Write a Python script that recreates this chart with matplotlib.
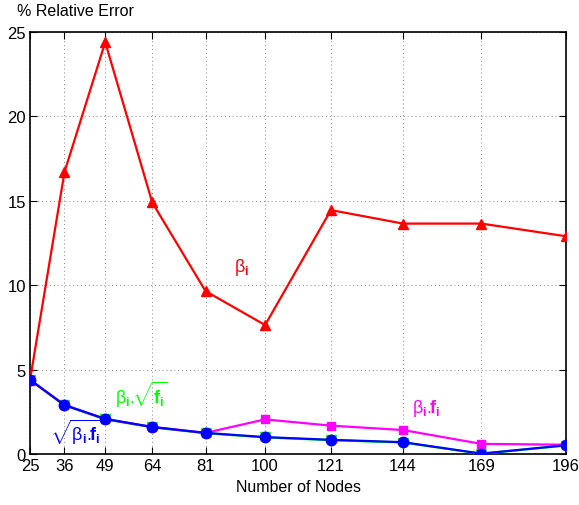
import matplotlib
matplotlib.use('Agg')
import matplotlib.pyplot as plt
import numpy as np

plt.rcParams['font.family'] = ['Liberation Sans', 'DejaVu Sans']
plt.rcParams['mathtext.fontset'] = 'custom'
plt.rcParams['mathtext.rm'] = 'Liberation Sans'
plt.rcParams['mathtext.it'] = 'Liberation Sans:italic'
plt.rcParams['mathtext.bf'] = 'Liberation Sans:bold'

nodes = [25, 36, 49, 64, 81, 100, 121, 144, 169, 196]
err_beta = [4.38, 16.7, 24.4, 14.9, 9.65, 7.64, 14.45, 13.65, 13.65, 12.9]
err_beta_f = [4.38, 2.9, 2.07, 1.6, 1.25, 2.05, 1.68, 1.42, 0.6, 0.55]
err_beta_sqrtf = [4.38, 2.88, 2.05, 1.58, 1.23, 0.98, 0.82, 0.68, 0.02, 0.5]
err_sqrt_beta_f = [4.4, 2.9, 2.08, 1.6, 1.25, 1.0, 0.84, 0.7, 0.02, 0.52]

fig = plt.figure(figsize=(5.79, 5.06), dpi=100)
ax = fig.add_axes([30/579, 51/506, 536/579, 422/506])

ax.plot(nodes, err_beta, color='red', lw=1.6, marker='^', ms=7, zorder=3)
ax.plot(nodes, err_beta_sqrtf, color='#00ff00', lw=1.6, marker='v', ms=7, zorder=4)
ax.plot(nodes, err_beta_f, color='magenta', lw=1.6, marker='s', ms=5.5, zorder=4)
ax.plot(nodes, err_sqrt_beta_f, color='#0000ff', lw=1.6, marker='o', ms=7.5, zorder=5)

ax.set_xlim(25, 196)
ax.set_ylim(0, 25)
ax.set_xticks(nodes)
ax.set_yticks([0, 5, 10, 15, 20, 25])
ax.tick_params(direction='in', top=True, right=True, labelsize=12, length=5, width=0.8, pad=3)
ax.grid(True, linestyle=(0, (1, 3)), color='#888888', lw=0.7)
for s in ax.spines.values():
    s.set_linewidth(1.2)

ax.set_xlabel('Number of Nodes', fontsize=11.5)
fig.text(17/579, 1 - 12/506, '% Relative Error', fontsize=11.5, va='center', ha='left')

b = r'\mathrm{\beta}_{\mathbf{i}}'
f = r'\mathbf{f}_{\mathbf{i}}'
dot = r'{.}\!\!'
ax.text(90, 11.1, '$' + b + '$', color='red', fontsize=13, ha='left', va='center')
ax.text(52, 3.55, '$' + b + dot + r'\sqrt{' + f + '}$', color='#00ff00',
        fontsize=13, ha='left', va='center')
ax.text(31.5, 1.35, r'$\sqrt{' + b + dot + f + '}$', color='#0000ff',
        fontsize=13, ha='left', va='center')
ax.text(147, 2.75, '$' + b + dot + f + '$', color='magenta',
        fontsize=13, ha='left', va='center')

fig.savefig('out.png', dpi=100)
